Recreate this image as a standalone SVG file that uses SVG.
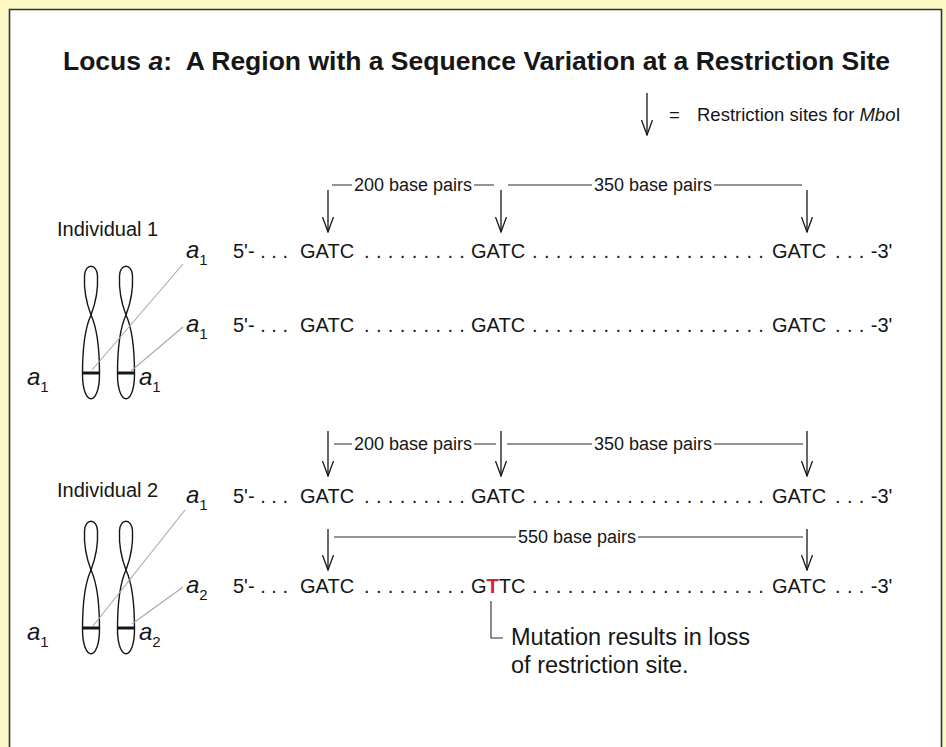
<svg xmlns="http://www.w3.org/2000/svg" width="946" height="747" viewBox="0 0 946 747">
  <style>
    text { font-family: "Liberation Sans", Arial, sans-serif; fill: #161616; }
    .title { font-size: 26.5px; font-weight: bold; }
    .body { font-size: 20px; }
    .seq { font-size: 20px; }
    .dots { word-spacing: 0.8px; }
    .bp { font-size: 18px; }
    .legend { font-size: 18.5px; }
    .note { font-size: 23.5px; }
    .allele { font-size: 24px; font-style: italic; }
    .sub { font-size: 15px; font-style: normal; }
    .mut { fill: #d41f3c; font-weight: bold; }
    .chrom { fill: none; stroke: #161616; stroke-width: 1.4; }
    .band { stroke: #161616; stroke-width: 3; }
    .lead { stroke: #a8a8a8; stroke-width: 1.1; }
    .rule { stroke: #2a2a2a; stroke-width: 1.1; fill: none; }
    .arrow { stroke: #161616; stroke-width: 1.3; marker-end: url(#vhead); }
  </style>
  <defs>
    <marker id="vhead" viewBox="0 0 16 12" refX="15" refY="6" markerWidth="16" markerHeight="12" markerUnits="userSpaceOnUse" orient="auto">
      <path d="M0,0.5 L15,6 L0,11.5" fill="none" stroke="#161616" stroke-width="1.3"/>
    </marker>
    <!-- twisted chromosome outline, centred on x=0, top at y=0 -->
    <g id="chromosome">
      <path class="chrom" d="M0,49 C-5,36 -7,20 -6.5,10 C-6,-3 6,-3 6.5,10 C7,20 5,36 0,49 Z"/>
      <path class="chrom" d="M0,49 C-7,64 -8.5,85 -8.5,108 C-8.5,141 8.5,141 8.5,108 C8.5,85 7,64 0,49 Z"/>
      <line class="band" x1="-8" y1="107" x2="8" y2="107"/>
    </g>
  </defs>

  <!-- page background and frame -->
  <rect width="946" height="747" fill="#fcf8c4"/>
  <rect x="9" y="9" width="933" height="740" fill="#ffffff"/>
  <path d="M9.5,747 V9.5 H941.5 V747" fill="none" stroke="#333333" stroke-width="1.6"/>

  <g id="title">
    <text class="title" x="63" y="70" xml:space="preserve">Locus <tspan font-style="italic">a</tspan>:  A Region with a Sequence Variation at a Restriction Site</text>
  </g>

  <g id="legend">
    <line class="arrow" x1="647" y1="93" x2="647" y2="135"/>
    <text class="legend" x="669" y="121">=</text>
    <text class="legend" x="697" y="121">Restriction sites for <tspan font-style="italic">Mbo</tspan>I</text>
  </g>

  <!-- Individual 1: homozygous a1/a1 -->
  <g id="individual-1">
    <text class="body" x="57" y="236">Individual 1</text>
    <use href="#chromosome" x="91" y="266"/>
    <use href="#chromosome" x="126" y="266"/>
    <text class="allele" x="27" y="385">a<tspan class="sub" dy="7">1</tspan></text>
    <text class="allele" x="139" y="385">a<tspan class="sub" dy="7">1</tspan></text>
    <text class="allele" x="186" y="258">a<tspan class="sub" dy="7">1</tspan></text>
    <text class="allele" x="186" y="332">a<tspan class="sub" dy="7">1</tspan></text>
  </g>

  <g id="seq-1a">
    <text class="seq" y="258"><tspan x="233">5'- . . .</tspan><tspan x="300">GATC</tspan><tspan class="dots" x="364">. . . . . . . . .</tspan><tspan x="471">GATC</tspan><tspan class="dots" x="532">. . . . . . . . . . . . . . . . . . . .</tspan><tspan x="772">GATC</tspan><tspan class="dots" x="835">. . . -3'</tspan></text>
  </g>
  <g id="seq-1b">
    <text class="seq" y="332"><tspan x="233">5'- . . .</tspan><tspan x="300">GATC</tspan><tspan class="dots" x="364">. . . . . . . . .</tspan><tspan x="471">GATC</tspan><tspan class="dots" x="532">. . . . . . . . . . . . . . . . . . . .</tspan><tspan x="772">GATC</tspan><tspan class="dots" x="835">. . . -3'</tspan></text>
  </g>

  <g id="distances-1">
    <text class="bp" x="354" y="191">200 base pairs</text>
    <text class="bp" x="594" y="191">350 base pairs</text>
  </g>

  <!-- Individual 2: heterozygous a1/a2 -->
  <g id="individual-2">
    <text class="body" x="57" y="497">Individual 2</text>
    <use href="#chromosome" x="91" y="521"/>
    <use href="#chromosome" x="126" y="521"/>
    <text class="allele" x="27" y="640">a<tspan class="sub" dy="7">1</tspan></text>
    <text class="allele" x="139" y="640">a<tspan class="sub" dy="7">2</tspan></text>
    <text class="allele" x="186" y="503">a<tspan class="sub" dy="7">1</tspan></text>
    <text class="allele" x="186" y="593">a<tspan class="sub" dy="7">2</tspan></text>
  </g>

  <g id="seq-2a">
    <text class="seq" y="503"><tspan x="233">5'- . . .</tspan><tspan x="300">GATC</tspan><tspan class="dots" x="364">. . . . . . . . .</tspan><tspan x="471">GATC</tspan><tspan class="dots" x="532">. . . . . . . . . . . . . . . . . . . .</tspan><tspan x="772">GATC</tspan><tspan class="dots" x="835">. . . -3'</tspan></text>
  </g>
  <g id="seq-2b">
    <text class="seq" y="593"><tspan x="233">5'- . . .</tspan><tspan x="300">GATC</tspan><tspan class="dots" x="364">. . . . . . . . .</tspan><tspan x="471">G</tspan><tspan class="mut">T</tspan><tspan>TC</tspan><tspan class="dots" x="532">. . . . . . . . . . . . . . . . . . . .</tspan><tspan x="772">GATC</tspan><tspan class="dots" x="835">. . . -3'</tspan></text>
  </g>

  <g id="distances-2">
    <text class="bp" x="354" y="450">200 base pairs</text>
    <text class="bp" x="594" y="450">350 base pairs</text>
    <text class="bp" x="518" y="543">550 base pairs</text>
  </g>

  <g id="mutation-note">
    <text class="note" x="511" y="645">Mutation results in loss</text>
    <text class="note" x="511" y="673">of restriction site.</text>
  </g>

  <g id="connectors">
    <!-- leader lines from chromosome bands to allele labels -->
    <line class="lead" x1="92" y1="370" x2="183" y2="264"/>
    <line class="lead" x1="131" y1="371" x2="183" y2="327"/>
    <line class="lead" x1="93" y1="626" x2="185" y2="510"/>
    <line class="lead" x1="132" y1="624" x2="183" y2="587"/>

    <!-- Individual 1 restriction sites and spacing -->
    <line class="arrow" x1="328" y1="190" x2="328" y2="232"/>
    <line class="arrow" x1="501" y1="190" x2="501" y2="232"/>
    <line class="arrow" x1="807" y1="190" x2="807" y2="232"/>
    <path class="rule" d="M332,185 H352 M474,185 H494 M508,185 H592 M714,185 H802"/>

    <!-- Individual 2, allele a1 -->
    <line class="arrow" x1="328" y1="431" x2="328" y2="476"/>
    <line class="arrow" x1="501" y1="431" x2="501" y2="476"/>
    <line class="arrow" x1="807" y1="431" x2="807" y2="476"/>
    <path class="rule" d="M334,444 H352 M474,444 H496 M507,444 H592 M714,444 H803"/>

    <!-- Individual 2, allele a2 -->
    <line class="arrow" x1="328" y1="529" x2="328" y2="570"/>
    <line class="arrow" x1="807" y1="529" x2="807" y2="570"/>
    <path class="rule" d="M334,537 H516 M638,537 H803"/>

    <!-- callout to the mutated base -->
    <path class="rule" d="M491,601 V638 H503"/>
  </g>
</svg>
